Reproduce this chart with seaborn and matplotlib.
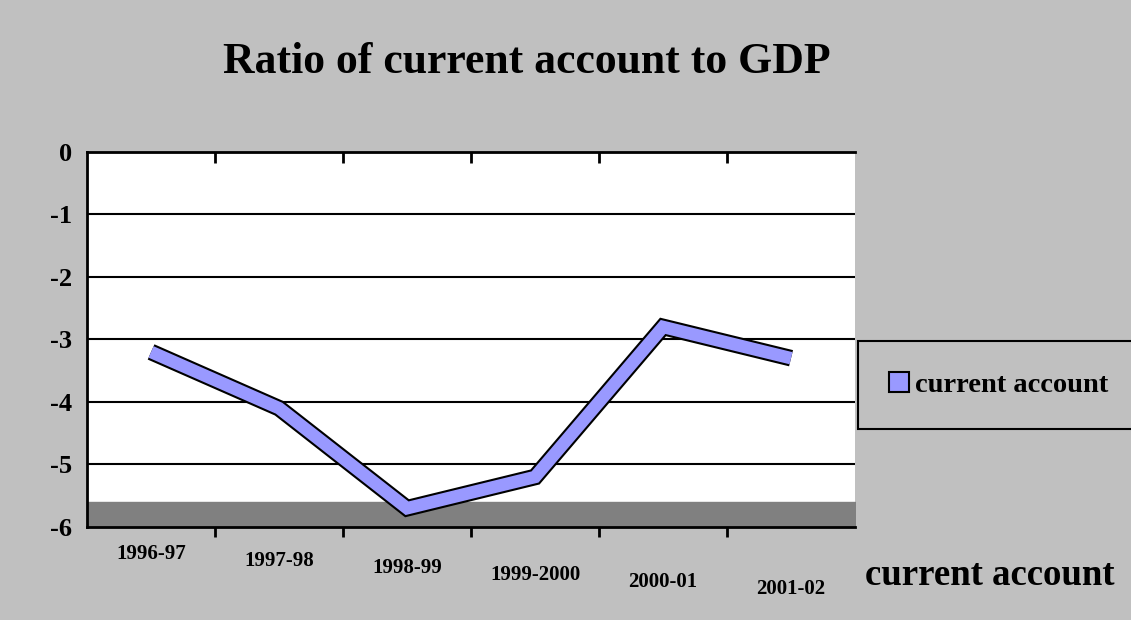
import matplotlib
matplotlib.use("Agg")
import matplotlib.pyplot as plt
import matplotlib.patheffects as pe
import matplotlib.transforms as mtransforms
from matplotlib.patches import Patch
import pandas as pd
import seaborn as sns

years = ["1996-97", "1997-98", "1998-99", "1999-2000", "2000-01", "2001-02"]
ratio = [-3.2, -4.1, -5.7, -5.2, -2.8, -3.3]
yticks = [0, -1, -2, -3, -4, -5, -6]

df = pd.DataFrame({"year": years, "ratio": ratio, "pos": range(len(years))})

sns.set_theme(style="white")
plt.rcParams["font.family"] = ["Liberation Serif", "DejaVu Serif"]
plt.rcParams["font.weight"] = "bold"
plt.rcParams["text.color"] = "black"
plt.rcParams["xtick.color"] = "black"
plt.rcParams["ytick.color"] = "black"
plt.rcParams["axes.labelcolor"] = "black"

fig = plt.figure(figsize=(11.31, 6.2), dpi=100, facecolor="#c0c0c0")
ax = fig.add_axes([0.077, 0.15, 0.679, 0.605])
ax.set_facecolor("white")

# floor of the 3d chart
ax.fill_between([-0.5, 5.5], -6, -5.6, color="#808080", zorder=1)

for v in yticks[1:-1]:
    ax.axhline(v, color="black", lw=1.5, zorder=2)

sns.lineplot(data=df, x="pos", y="ratio", ax=ax, color="#9999ff", lw=9,
             solid_joinstyle="miter", solid_capstyle="butt", legend=False, zorder=3,
             path_effects=[pe.Stroke(linewidth=12, foreground="black", capstyle="butt"), pe.Normal()])

ax.set_xlim(-0.5, 5.5)
ax.set_ylim(-6, 0)
ax.set_yticks(yticks)
ax.set_yticklabels([str(v) for v in yticks], fontsize=19, fontweight="bold")
ax.set_xticks(range(len(years)))
ax.set_xticklabels(years, fontsize=15, fontweight="bold")
bounds = [i + 0.5 for i in range(len(years) - 1)]
ax.set_xticks(bounds, minor=True)
ax.tick_params(axis="x", which="major", length=0, pad=12)
ax.tick_params(axis="x", which="minor", length=7, width=2, color="black", direction="out", bottom=True, top=False)
ax.tick_params(axis="y", length=7, width=2, color="black", direction="out", pad=4)
ax.set_xlabel("")
ax.set_ylabel("")

# tick marks hanging down from the top edge
ax.vlines(bounds, 0.97, 1.0, transform=ax.get_xaxis_transform(), color="black", lw=2, zorder=4)

for i, lbl in enumerate(ax.get_xticklabels()):
    lbl.set_transform(lbl.get_transform() + mtransforms.ScaledTranslation(0, -i * 0.07, fig.dpi_scale_trans))

for s in ["left", "bottom", "top"]:
    ax.spines[s].set_visible(True)
    ax.spines[s].set_color("black")
    ax.spines[s].set_linewidth(2)
ax.spines["right"].set_visible(False)

fig.text(0.466, 0.9, "Ratio of current account to GDP", ha="center", va="center",
         fontsize=31.5, fontweight="bold", color="black")

handle = Patch(facecolor="#9999ff", edgecolor="black", lw=1.5)
leg = fig.legend([handle], ["current account"], loc="center",
                 bbox_to_anchor=(0.883, 0.379), frameon=True, fancybox=False,
                 facecolor="#c0c0c0", edgecolor="black", framealpha=1,
                 prop={"family": "Liberation Serif", "weight": "bold", "size": 20.5},
                 borderpad=1.1, handlelength=0.7, handleheight=0.7, handletextpad=0.2,
                 borderaxespad=0)
leg.get_frame().set_linewidth(1.5)

fig.text(0.765, 0.072, "current account", ha="left", va="center",
         fontsize=26.5, fontweight="bold", color="black")

fig.savefig("out.png", dpi=100, facecolor=fig.get_facecolor())
